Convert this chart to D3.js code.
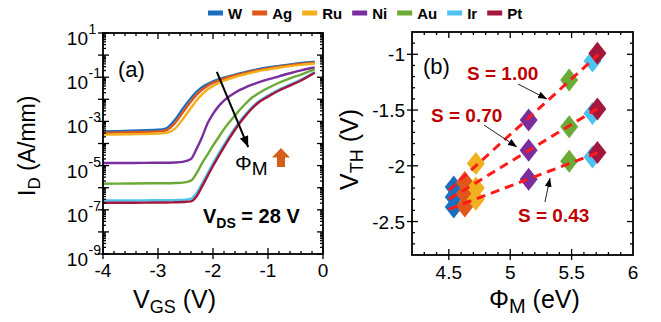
<!DOCTYPE html>
<html><head><meta charset="utf-8">
<script src="https://cdn.jsdelivr.net/npm/d3@7"></script>
<style>
body{margin:0;background:#fff}
svg{display:block}
text{font-family:"Liberation Sans",Arial,sans-serif}
</style>
</head><body>
<svg id="c" width="661" height="322"></svg>
<script>
// ---------- DATA ----------
const metals = ["W","Ag","Ru","Ni","Au","Ir","Pt"];
const colors = ["#1a6fbf","#e0561b","#f2b01e","#7a2e9e","#6aaa35","#4ec3ef","#a3173d"];

// Panel (a): VGS grid (V) and log10(ID [A/mm]) for each metal
const vgs = [-4,-3.5,-3,-2.85,-2.7,-2.55,-2.4,-2.3,-2.2,-2.1,-2.0,-1.9,-1.8,-1.7,-1.6,-1.5,-1.4,-1.3,-1.2,-1.0,-0.8,-0.6,-0.4,-0.15];
const logID_W  = [-3.46,-3.42,-3.38,-3.31,-2.95,-2.43,-1.94,-1.66,-1.45,-1.31,-1.19,-1.10,-1.02,-0.95,-0.88,-0.82,-0.76,-0.70,-0.65,-0.56,-0.49,-0.42,-0.36,-0.30];
const logID_Ag = [-3.52,-3.49,-3.45,-3.40,-3.10,-2.60,-2.10,-1.80,-1.57,-1.40,-1.26,-1.16,-1.07,-0.99,-0.92,-0.86,-0.80,-0.74,-0.69,-0.60,-0.52,-0.46,-0.40,-0.34];
const logID_Ru = [-3.60,-3.58,-3.55,-3.52,-3.35,-2.90,-2.38,-2.05,-1.78,-1.56,-1.40,-1.27,-1.16,-1.07,-0.99,-0.92,-0.86,-0.80,-0.74,-0.65,-0.57,-0.50,-0.44,-0.38];
const logID_Ni = [-4.88,-4.88,-4.87,-4.87,-4.86,-4.83,-4.70,-4.25,-3.72,-3.10,-2.66,-2.32,-2.06,-1.86,-1.70,-1.56,-1.45,-1.35,-1.26,-1.10,-0.96,-0.82,-0.69,-0.56];
const logID_Au = [-5.82,-5.81,-5.80,-5.80,-5.79,-5.77,-5.68,-5.35,-4.90,-4.50,-4.10,-3.72,-3.35,-3.03,-2.73,-2.44,-2.18,-1.94,-1.77,-1.49,-1.25,-1.05,-0.88,-0.65];
const logID_Ir = [-6.58,-6.58,-6.57,-6.57,-6.56,-6.55,-6.50,-6.25,-5.82,-5.36,-4.90,-4.47,-4.06,-3.67,-3.30,-2.96,-2.66,-2.39,-2.15,-1.83,-1.56,-1.34,-1.11,-0.77];
const logID_Pt = [-6.68,-6.68,-6.67,-6.67,-6.66,-6.65,-6.62,-6.40,-5.95,-5.48,-5.02,-4.58,-4.16,-3.76,-3.38,-3.03,-2.72,-2.44,-2.20,-1.88,-1.60,-1.38,-1.15,-0.80];

// Panel (b): work function (eV) and threshold voltages (V) of the three groups
const phiM    = [4.54, 4.63, 4.72, 5.15, 5.48, 5.67, 5.71];
const vthS100 = [-2.19,-2.15,-1.98,-1.59,-1.23,-1.06,-0.99];
const vthS070 = [-2.28,-2.25,-2.20,-1.86,-1.65,-1.53,-1.49];
const vthS043 = [-2.37,-2.36,-2.30,-2.12,-1.96,-1.92,-1.88];
// Fitted lines (endpoints in data units)
const fitPhi  = [4.50, 5.72];
const fitS100 = [-2.22, -1.00];
const fitS070 = [-2.30, -1.48];
const fitS043 = [-2.39, -1.88];
const slopeLabels = ["S = 1.00","S = 0.70","S = 0.43"];

// Tick labels
const xTicksA = [-4,-3,-2,-1,0];
const yExpA   = [1,-1,-3,-5,-7,-9];
const xTicksB = [4.5,5,5.5,6];
const yTicksB = [-1,-1.5,-2,-2.5];

// ---------- SETUP ----------
const svg = d3.select("#c");
const xA = d3.scaleLinear().domain([-4,0]).range([103,323]);
const yA = d3.scaleLog().domain([1e-9,1e1]).range([254,33]);
const xB = d3.scaleLinear().domain([4.2,6]).range([412,633]);
const yB = d3.scaleLinear().domain([-2.8,-0.8]).range([255,32]);

const defs = svg.append("defs");
function marker(id, w, h){
  defs.append("marker").attr("id",id).attr("viewBox",`0 0 ${w} ${h}`)
    .attr("refX",w).attr("refY",h/2).attr("markerWidth",w).attr("markerHeight",h)
    .attr("markerUnits","userSpaceOnUse").attr("orient","auto")
    .append("path").attr("d",`M0,0L${w},${h/2}L0,${h}Z`).attr("fill","#000");
}
marker("headA",11,9);
marker("headB",9,7);

// ---------- LEGEND ----------
const leg = svg.append("g");
let lx = 208;
metals.forEach((m,i)=>{
  leg.append("rect").attr("x",lx).attr("y",10.5).attr("width",15).attr("height",5).attr("fill",colors[i]);
  const t = leg.append("text").attr("x",lx+20).attr("y",19).attr("font-size",15).attr("font-weight","bold").text(m);
  lx += 20 + t.node().getComputedTextLength() + 10;
});

// ---------- PANEL (a) ----------
const gA = svg.append("g");
const seriesA = [logID_W,logID_Ag,logID_Ru,logID_Ni,logID_Au,logID_Ir,logID_Pt];
const lineA = d3.line().x(d=>xA(d[0])).y(d=>yA(d[1])).curve(d3.curveMonotoneX);
seriesA.forEach((s,i)=>{
  gA.append("path").attr("d", lineA(vgs.map((v,j)=>[v, Math.pow(10,s[j])])))
    .attr("fill","none").attr("stroke",colors[i]).attr("stroke-width",2.4);
});
// ticks (a)
const tk = gA.append("g").attr("stroke","#000").attr("stroke-width",1.3);
for(let e=-9;e<=1;e++){
  const y = yA(Math.pow(10,e));
  tk.append("line").attr("x1",xA(-4)-5).attr("x2",xA(-4)+6).attr("y1",y).attr("y2",y);
  tk.append("line").attr("x1",xA(0)-6).attr("x2",xA(0)).attr("y1",y).attr("y2",y);
  if(e<1) for(let k=2;k<=9;k++){
    const ym = yA(k*Math.pow(10,e));
    tk.append("line").attr("x1",xA(-4)).attr("x2",xA(-4)+3).attr("y1",ym).attr("y2",ym);
    tk.append("line").attr("x1",xA(0)-3).attr("x2",xA(0)).attr("y1",ym).attr("y2",ym);
  }
}
d3.range(-4,0.001,0.2).forEach(v=>{
  const x = xA(v);
  const major = Math.abs(v-Math.round(v))<1e-6;
  const L = major?6:3;
  tk.append("line").attr("x1",x).attr("x2",x).attr("y1",yA(1e-9)+(major?5:0)).attr("y2",yA(1e-9)-L);
  tk.append("line").attr("x1",x).attr("x2",x).attr("y1",yA(1e1)).attr("y2",yA(1e1)+L);
});
gA.append("rect").attr("x",xA(-4)).attr("y",yA(1e1)).attr("width",xA(0)-xA(-4)).attr("height",yA(1e-9)-yA(1e1))
  .attr("fill","none").attr("stroke","#000").attr("stroke-width",1.8);
// tick labels (a)
yExpA.forEach(e=>{
  const y = yA(Math.pow(10,e));
  gA.append("text").attr("x",88).attr("y",y+12).attr("text-anchor","end").attr("font-size",19).text("10");
  gA.append("text").attr("x",88.5).attr("y",y+1).attr("font-size",14).text(String(e));
});
xTicksA.forEach(v=>{
  gA.append("text").attr("x",xA(v)).attr("y",277).attr("text-anchor","middle").attr("font-size",19).text(String(v));
});
// axis titles (a)
const xtA = gA.append("text").attr("x",133).attr("y",308).attr("font-size",25);
xtA.append("tspan").text("V");
xtA.append("tspan").attr("font-size",18).attr("dy",5).text("GS");
xtA.append("tspan").attr("dy",-5).text(" (V)");
const ytA = gA.append("text").attr("transform","translate(35,196) rotate(-90)").attr("font-size",23);
ytA.append("tspan").text("I");
ytA.append("tspan").attr("font-size",17).attr("dy",5).text("D");
ytA.append("tspan").attr("dy",-5).text(" (A/mm)");
// annotations (a)
gA.append("text").attr("x",118).attr("y",77).attr("font-size",22).text("(a)");
const arrA = [[-1.93, Math.pow(10,-0.76)], [-1.36, Math.pow(10,-4.16)]];
gA.append("line").attr("x1",xA(arrA[0][0])).attr("y1",yA(arrA[0][1])).attr("x2",xA(arrA[1][0])).attr("y2",yA(arrA[1][1]))
  .attr("stroke","#000").attr("stroke-width",2).attr("marker-end","url(#headA)");
const phiT = gA.append("text").attr("x",235).attr("y",170).attr("font-size",21);
phiT.append("tspan").text("Φ");
phiT.append("tspan").attr("font-size",19).attr("dy",5).text("M");
// orange block arrow
const bx = 281, by = 148;
gA.append("path").attr("d",`M${bx},${by}L${bx+9},${by+9.5}L${bx+4},${by+9.5}L${bx+4},${by+19}L${bx-4},${by+19}L${bx-4},${by+9.5}L${bx-9},${by+9.5}Z`)
  .attr("fill","#d2601a");
const vds = gA.append("text").attr("x",203).attr("y",223).attr("font-size",20).attr("font-weight","bold");
vds.append("tspan").text("V");
vds.append("tspan").attr("font-size",14).attr("dy",5).text("DS");
vds.append("tspan").attr("dy",-5).text(" = 28 V");

// ---------- PANEL (b) ----------
const gB = svg.append("g");
const tkB = gB.append("g").attr("stroke","#000").attr("stroke-width",1.3);
d3.range(4.3,5.95,0.1).forEach(v=>{
  const x = xB(v);
  const major = Math.abs(v*2-Math.round(v*2))<1e-6;
  const L = major?6:3;
  tkB.append("line").attr("x1",x).attr("x2",x).attr("y1",yB(-2.8)+(major?5:0)).attr("y2",yB(-2.8)-L);
  tkB.append("line").attr("x1",x).attr("x2",x).attr("y1",yB(-0.8)).attr("y2",yB(-0.8)+L);
});
d3.range(-2.7,-0.85,0.1).forEach(v=>{
  const y = yB(v);
  const major = Math.abs(v*2-Math.round(v*2))<1e-6;
  const L = major?6:3;
  tkB.append("line").attr("x1",xB(4.2)-(major?5:0)).attr("x2",xB(4.2)+L).attr("y1",y).attr("y2",y);
  tkB.append("line").attr("x1",xB(6)-L).attr("x2",xB(6)).attr("y1",y).attr("y2",y);
});
gB.append("rect").attr("x",xB(4.2)).attr("y",yB(-0.8)).attr("width",xB(6)-xB(4.2)).attr("height",yB(-2.8)-yB(-0.8))
  .attr("fill","none").attr("stroke","#000").attr("stroke-width",1.8);
// diamonds
const diamond = "M0,-11.5L9,0L0,11.5L-9,0Z";
metals.forEach((m,i)=>{
  [vthS043, vthS070, vthS100].forEach(arr=>{
    gB.append("path").attr("d",diamond).attr("transform",`translate(${xB(phiM[i])},${yB(arr[i])})`).attr("fill",colors[i]);
  });
});
// fit lines
[fitS100, fitS070, fitS043].forEach(f=>{
  gB.append("line").attr("x1",xB(fitPhi[0])).attr("y1",yB(f[0])).attr("x2",xB(fitPhi[1])).attr("y2",yB(f[1]))
    .attr("stroke","#ff1a1a").attr("stroke-width",3).attr("stroke-dasharray","9,6");
});
// tick labels (b)
yTicksB.forEach(v=>{
  gB.append("text").attr("x",405).attr("y",yB(v)+7).attr("text-anchor","end").attr("font-size",19).text(String(v));
});
xTicksB.forEach(v=>{
  gB.append("text").attr("x",xB(v)).attr("y",279).attr("text-anchor","middle").attr("font-size",19).text(String(v));
});
// axis titles (b)
const xtB = gB.append("text").attr("x",489).attr("y",308).attr("font-size",25);
xtB.append("tspan").text("Φ");
xtB.append("tspan").attr("font-size",20).attr("dy",5).text("M");
xtB.append("tspan").attr("dy",-5).text(" (eV)");
const ytB = gB.append("text").attr("transform","translate(358,190) rotate(-90)").attr("font-size",25);
ytB.append("tspan").text("V");
ytB.append("tspan").attr("font-size",18).attr("dy",5).text("TH");
ytB.append("tspan").attr("dy",-5).text(" (V)");
gB.append("text").attr("x",423).attr("y",74).attr("font-size",22).text("(b)");
// slope labels and arrows
const labelPos = [[467,80],[431,122],[518,222]];
const arrowsB = [[[5.063,-1.266],[5.299,-1.401]], [[4.786,-1.634],[5.055,-1.831]], [[5.283,-2.325],[5.324,-2.109]]];
slopeLabels.forEach((s,i)=>{
  gB.append("text").attr("x",labelPos[i][0]).attr("y",labelPos[i][1]).attr("font-size",19).attr("font-weight","bold")
    .attr("fill","#c00000").text(s);
  const a = arrowsB[i];
  gB.append("line").attr("x1",xB(a[0][0])).attr("y1",yB(a[0][1])).attr("x2",xB(a[1][0])).attr("y2",yB(a[1][1]))
    .attr("stroke","#222").attr("stroke-width",1).attr("marker-end","url(#headB)");
});
</script>
</body></html>
